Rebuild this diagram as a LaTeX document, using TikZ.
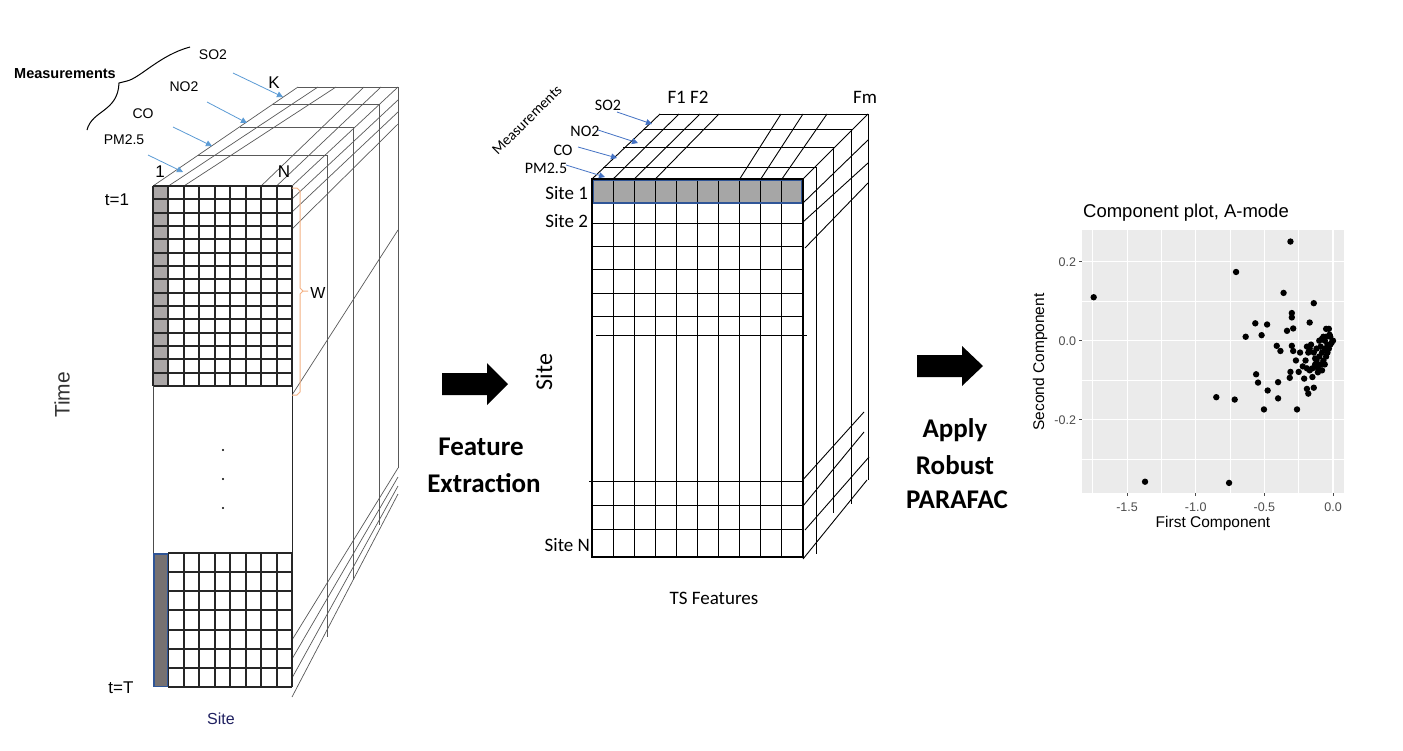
\documentclass[tikz,border=0pt]{standalone}
\usepackage{fontspec}
\setmainfont{Liberation Sans}
\newfontfamily\calib{Carlito}
\usetikzlibrary{arrows.meta}
\definecolor{gcell}{HTML}{ABA7A7}
\definecolor{gdark}{HTML}{767171}
\definecolor{navyb}{HTML}{2F5597}
\definecolor{lblue}{HTML}{5B9BD5}
\definecolor{mblue}{HTML}{4472C4}
\definecolor{orng}{HTML}{F4B183}
\definecolor{navytxt}{HTML}{1F2060}
\definecolor{panelbg}{HTML}{EBEBEB}
\definecolor{ticktxt}{HTML}{4D4D4D}
\definecolor{midgray}{HTML}{A6A6A6}
\tikzset{
  gridln/.style={line width=1.1pt, draw=black!85},
  depthln/.style={line width=0.7pt, draw=black!65},
  mdepth/.style={line width=0.9pt, draw=black},
  mgrid/.style={line width=1pt, draw=black},
  barrow/.style={-{Triangle[length=6pt,width=6pt]}, line width=0.8pt, draw=lblue},
  marrow/.style={-{Triangle[length=6pt,width=6pt]}, line width=0.8pt, draw=mblue},
  lefttxt/.style={font=\fontsize{14}{16}\selectfont},
  midtxt/.style={font=\calib\fontsize{16}{18}\selectfont},
  bigtxt/.style={font=\calib\bfseries\fontsize{27}{30}\selectfont},
  ticklab/.style={font=\fontsize{12.5}{14}\selectfont, text=ticktxt},
  axlab/.style={font=\fontsize{15.5}{17}\selectfont},
}
\begin{document}
\begin{tikzpicture}[x=1pt,y=-1pt, every node/.style={inner sep=0pt, outer sep=0pt}]
\useasboundingbox (0,0) rectangle (1403,750);
\fill[white] (0,0) rectangle (1403,750);

% ================= LEFT CUBE =================
\draw[depthln] (198,155) -- (327,155) -- (327,637);
\draw[depthln] (240,127) -- (353,127) -- (353,580);
\draw[depthln] (273,104) -- (379,104) -- (379,525);
\draw[depthln] (298,87) -- (398,87) -- (398,468);
\draw[depthln] (153,186) -- (298,87);
\draw[depthln] (168.44,186) -- (318,87);
\draw[depthln] (183.89,186) -- (336,87);
\draw[depthln] (261.11,186) -- (364,87);
\draw[depthln] (276.56,186) -- (381,87);
\draw[depthln] (292,186) -- (398,87);
\draw[depthln] (292,199) -- (398,100);
\draw[depthln] (292,212) -- (398,112);
\draw[depthln] (292,229) -- (398,124);
\draw[depthln] (292,395) -- (398,230);
\draw[depthln] (292,640) -- (398,468);
\draw[depthln] (292,659) -- (398,477);
\draw[depthln] (292,678) -- (398,486);
\draw[depthln] (292,697) -- (398,494);

\fill[white] (153,186) rectangle (292,687);
\fill[gcell] (153,186) rectangle (168.44,386);
\foreach \i in {0,...,9} \draw[gridln] ({round(153+\i*139/9)},186) -- ({round(153+\i*139/9)},386);
\foreach \j in {0,...,15} \draw[gridln] (153,{round(186+\j*200/15)}) -- (292,{round(186+\j*200/15)});
\foreach \i in {1,...,9} \draw[gridln] ({round(153+\i*139/9)},553) -- ({round(153+\i*139/9)},687);
\foreach \j in {0,...,7} \draw[gridln] (168,{round(553+\j*134/7)}) -- (292,{round(553+\j*134/7)});
\draw[line width=1pt, draw=black!70] (153,386) -- (153,553);
\draw[line width=1pt, draw=black!85] (292,386) -- (292,553);
\filldraw[fill=gdark, draw=navyb, line width=1.5pt] (153.8,553.8) rectangle (167.6,686.5);
\foreach \yy in {450,479,508} \fill (223,\yy) circle (1.1);

\draw[orng, line width=1pt] (292,188) -- (297,188) -- (300,191) -- (300,288) -- (303,291) -- (308,291);
\draw[orng, line width=1pt] (303,291) -- (300,294) -- (300,392) -- (297,395) -- (292,395);
\node[font=\fontsize{16}{18}\selectfont] (wlab) at (318,293) {W};

\node[font=\bfseries\fontsize{14.5}{16}\selectfont] (measL) at (65,74) {Measurements};
\draw[line width=1pt] (190,47) .. controls (160,55) and (140,78) .. (127,81) -- (119,83)
   .. controls (118,112) and (92,110) .. (87,130);
\node[lefttxt] (so2L) at (213,55) {SO2};
\node[lefttxt] (no2L) at (184,87) {NO2};
\node[lefttxt] (coL) at (143,114) {CO};
\node[lefttxt] (pmL) at (124,140) {PM2.5};
\coordinate (so2La) at (233,73); \coordinate (so2Lb) at (283,97);
\coordinate (no2La) at (207,102); \coordinate (no2Lb) at (247,123);
\coordinate (coLa) at (173,127); \coordinate (coLb) at (212,146);
\coordinate (pmLa) at (148,155); \coordinate (pmLb) at (183,172);
\draw[barrow] (so2La) -- (so2Lb);
\draw[barrow] (no2La) -- (no2Lb);
\draw[barrow] (coLa) -- (coLb);
\draw[barrow] (pmLa) -- (pmLb);
\node[font=\fontsize{17}{19}\selectfont] (kL) at (274,83) {K};
\node[font=\fontsize{17}{19}\selectfont] (oneL) at (160,172) {1};
\node[font=\fontsize{17}{19}\selectfont] (nL) at (284,172) {N};
\node[font=\fontsize{17}{19}\selectfont] (t1) at (117,200) {t=1};
\node[font=\fontsize{17}{19}\selectfont] (tT) at (121,688) {t=T};
\node[font=\fontsize{16}{18}\selectfont, text=navytxt] (siteL) at (221,719) {Site};
\node[font=\fontsize{21}{23}\selectfont, text=black!80, rotate=90] (timeL) at (62,395) {Time};

% ================= ARROW 1 =================
\fill (442,373) -- (487,373) -- (487,363) -- (508,384) -- (487,405) -- (487,395) -- (442,395) -- cycle;
\node[bigtxt] (fe1) at (481,447) {Feature};
\node[bigtxt] (fe2) at (484,483) {Extraction};

% ================= MIDDLE CUBE =================
\draw[mdepth] (603,167) -- (816,167) -- (816,554);
\draw[mdepth] (623,147) -- (833,147) -- (833,513);
\draw[mdepth] (643,129) -- (851,129) -- (851,504);
\draw[mdepth] (660,114) -- (868,114) -- (868,480);
\draw[mdepth] (592,179) -- (660,114);
\draw[mdepth] (613.1,179) -- (679,114);
\draw[mdepth] (634.2,179) -- (700,114);
\draw[mdepth] (655.3,179) -- (719,114);
\draw[mdepth] (739.7,179) -- (781,114);
\draw[mdepth] (760.8,179) -- (803,114);
\draw[mdepth] (781.9,179) -- (827,114);
\draw[mdepth] (803,179) -- (868,114);
\draw[mdepth] (803,203) -- (868,140);
\draw[mdepth] (803,222) -- (868,163);
\draw[mdepth] (805,248) -- (868,183);
\draw[mdepth] (800,483) -- (864,412);
\draw[mdepth] (803,506) -- (864,432);
\draw[mdepth] (805,530) -- (869,457);
\draw[mdepth] (803,559) -- (867,480);

\fill[white] (592,179) rectangle (803,557);
\fill[midgray] (593.5,180.5) rectangle (801.5,203);
\foreach \i in {1,...,9} \draw[mgrid] ({592+\i*21.1},179) -- ({592+\i*21.1},557);
\foreach \yy in {203,223,246,269,293,316,505,529} \draw[mgrid] (592,\yy) -- (803,\yy);
\draw[mgrid] (596,335) -- (807,335);
\draw[mgrid] (589,481) -- (803,481);
\draw[line width=1.6pt] (592,179) rectangle (803,557);
\draw[navyb, line width=1.5pt] (593.5,180.5) rectangle (801.5,203);

\node[font=\calib\fontsize{15}{17}\selectfont, rotate=45] (measM) at (527,120) {Measurements};
\node[midtxt] (so2M) at (608,105) {SO2};
\node[midtxt] (no2M) at (585,131) {NO2};
\node[midtxt] (coM) at (563,150) {CO};
\node[midtxt] (pmM) at (546,168) {PM2.5};
\coordinate (so2Ma) at (617,112); \coordinate (so2Mb) at (652,124);
\coordinate (no2Ma) at (598,130); \coordinate (no2Mb) at (638,143);
\coordinate (coMa) at (578,147); \coordinate (coMb) at (617,158);
\coordinate (pmMa) at (566,165); \coordinate (pmMb) at (605,177);
\draw[marrow] (so2Ma) -- (so2Mb);
\draw[marrow] (no2Ma) -- (no2Mb);
\draw[marrow] (coMa) -- (coMb);
\draw[marrow] (pmMa) -- (pmMb);
\node[font=\calib\fontsize{19}{21}\selectfont] (f12) at (688,97) {F1 F2};
\node[font=\calib\fontsize{19}{21}\selectfont] (fm) at (865,97) {Fm};
\node[font=\calib\fontsize{19}{21}\selectfont, anchor=east] (s1) at (588,193) {Site 1};
\node[font=\calib\fontsize{19}{21}\selectfont, anchor=east] (s2) at (588,221) {Site 2};
\node[font=\calib\fontsize{19}{21}\selectfont, anchor=east] (sN) at (590,545) {Site N};
\node[font=\calib\fontsize{24}{26}\selectfont, rotate=90] (siteM) at (544,372) {Site};
\node[font=\calib\fontsize{19}{21}\selectfont] (tsf) at (714,598) {TS Features};

% ================= ARROW 2 =================
\fill (917,355) -- (962,355) -- (962,346) -- (983,366) -- (962,386) -- (962,377) -- (917,377) -- cycle;
\node[bigtxt] (ap1) at (955,430) {Apply};
\node[bigtxt] (ap2) at (955,465) {Robust};
\node[bigtxt] (ap3) at (957,500) {PARAFAC};

% ================= SCATTER PLOT =================
\fill[panelbg] (1082,230) rectangle (1344,493);
\foreach \xv in {-1.75,-1.25,-0.75,-0.25}
  \draw[white, line width=0.5pt] ({1333+137.3*\xv},230) -- ({1333+137.3*\xv},493);
\foreach \yv in {0.1,-0.1,-0.3}
  \draw[white, line width=0.5pt] (1082,{340.7-395*\yv}) -- (1344,{340.7-395*\yv});
\foreach \xv in {-1.5,-1.0,-0.5,0.0}
  \draw[white, line width=1.1pt] ({1333+137.3*\xv},230) -- ({1333+137.3*\xv},493);
\foreach \yv in {0.2,0.0,-0.2}
  \draw[white, line width=1.1pt] (1082,{340.7-395*\yv}) -- (1344,{340.7-395*\yv});
\foreach \xv/\lab in {-1.5/-1.5,-1.0/-1.0,-0.5/-0.5,0.0/0.0} {
  \draw[black!70, line width=0.6pt] ({1333+137.3*\xv},493) -- ({1333+137.3*\xv},496);
  \node[ticklab] at ({1333+137.3*\xv},507) {\lab};
}
\foreach \yv/\lab in {0.2/0.2,0.0/0.0,-0.2/-0.2} {
  \draw[black!70, line width=0.6pt] (1079,{340.7-395*\yv}) -- (1082,{340.7-395*\yv});
  \node[ticklab, anchor=east] at (1076,{340.7-395*\yv}) {\lab};
}
\foreach \a/\b in {
 -0.31/0.251, -0.706/0.174, -1.743/0.110, -0.36/0.121, -0.14/0.095,
 -0.566/0.044, -0.48/0.041, -0.636/0.010, -0.52/0.014, -0.30/0.070, -0.30/0.059,
 -0.29/0.031, -0.335/0.025, -0.17/0.046, -0.41/-0.013, -0.383/-0.026,
 -0.30/-0.013, -0.29/-0.026, -0.27/-0.05, -0.31/-0.079, -0.315/-0.094,
 -0.25/-0.079, -0.21/-0.096, -0.15/-0.092, -0.19/-0.122, -0.14/-0.119,
 -0.18/-0.134, -0.56/-0.085, -0.546/-0.106, -0.476/-0.126, -0.40/-0.105,
 -0.40/-0.146, -0.503/-0.174, -0.262/-0.174, -0.716/-0.149, -0.85/-0.143,
 -1.369/-0.357, -0.757/-0.360,
 -0.05/0.03, -0.03/0.03, -0.02/0.01, 0/0, -0.01/-0.005, -0.04/-0.01,
 -0.06/-0.02, -0.08/-0.03, -0.10/-0.04, -0.12/-0.05, -0.09/-0.06,
 -0.11/-0.07, -0.07/-0.05, -0.05/-0.04, -0.03/-0.02, -0.13/-0.06,
 -0.15/-0.07, -0.17/-0.075, -0.19/-0.07, -0.20/-0.05, -0.18/-0.03,
 -0.17/-0.02, -0.19/-0.015, -0.16/-0.01, -0.12/-0.02, -0.10/0.0,
 -0.08/0.005, -0.06/0.0, -0.04/-0.03, -0.14/-0.03, -0.11/-0.08,
 -0.13/-0.045, -0.025/0.015, -0.07/0.01, -0.09/-0.015, -0.05/0.01,
 -0.22/-0.065, -0.24/-0.03, -0.08/-0.075, -0.06/-0.06, -0.02/-0.01}
 \fill ({1333+137.3*\a},{340.7-395*\b}) circle (3.2);
\node[font=\fontsize{18.5}{20}\selectfont] (ptitle) at (1186,213) {Component plot, A-mode};
\node[axlab] (xlab) at (1213,523) {First Component};
\node[axlab, rotate=90] (ylab) at (1040,362) {Second Component};
\end{tikzpicture}
\end{document}
